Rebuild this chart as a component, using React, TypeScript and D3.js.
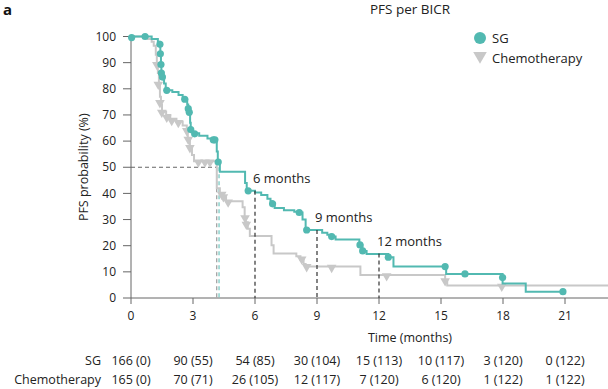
import React from "react";
import * as d3 from "d3";

// Kaplan-Meier steps: [time in months, PFS %] — value holds from this time on
const sgSteps: [number, number][] = [
  [0, 100], [1.0, 99], [1.3, 98], [1.38, 97], [1.42, 93.4], [1.45, 89.3], [1.47, 86],
  [1.5, 84.5], [1.6, 82], [1.68, 80], [1.73, 79.4], [2.0, 78.8], [2.3, 77.6], [2.5, 76.5],
  [2.6, 76], [2.72, 74], [2.77, 72.4], [2.82, 71], [2.86, 67], [2.89, 64.4], [3.0, 63],
  [3.3, 62], [3.7, 61], [3.95, 60.5], [4.15, 56], [4.2, 52], [4.3, 48.3], [5.52, 44],
  [5.6, 41], [6.0, 40.3], [6.3, 39.4], [6.6, 38], [6.75, 37], [6.85, 36], [6.95, 34.4],
  [7.4, 33.6], [7.9, 33], [8.14, 32.7], [8.3, 30], [8.45, 26], [9.25, 25], [9.5, 24.2],
  [9.71, 23.5], [9.9, 22.4], [11.05, 20.3], [11.2, 18], [11.4, 16.8], [12.45, 15.6],
  [12.7, 12], [15.25, 9.2], [17.98, 5.5], [19.1, 2.4], [20.9, 2.4],
];
const sgCensored: [number, number][] = [
  [0.03, 99.6], [0.68, 100], [1.4, 97], [1.42, 93.4], [1.45, 89.3], [1.47, 86], [1.52, 84.5],
  [1.73, 79.4], [2.6, 76], [2.77, 72.4], [2.82, 71], [2.89, 64.4], [3.08, 62.8], [3.98, 60.5],
  [4.06, 60.5], [4.22, 52], [5.67, 41], [6.85, 36], [8.14, 32.7], [8.5, 26], [9.71, 23.5],
  [11.08, 20.3], [11.21, 18], [12.45, 15.6], [15.2, 12], [16.16, 9.2], [17.98, 7.8], [20.9, 2.4],
];

const chemoSteps: [number, number][] = [
  [0, 100], [0.8, 99], [1.0, 98], [1.1, 96.5], [1.2, 93], [1.25, 89.6], [1.3, 86],
  [1.35, 82], [1.4, 77], [1.45, 74], [1.5, 71.3], [1.7, 70], [1.9, 68.5], [2.2, 67.5],
  [2.5, 66], [2.7, 64.3], [2.75, 61], [2.85, 57.8], [2.95, 54.7], [3.05, 52.3], [4.1, 51.5],
  [4.15, 42], [4.3, 40], [4.45, 38.5], [4.6, 37], [5.4, 34.7], [5.5, 31], [5.55, 29],
  [5.65, 26.5], [5.75, 23.7], [6.8, 20.2], [6.9, 17], [8.0, 16], [8.2, 14.5], [8.35, 13],
  [8.45, 12], [11.1, 8.8], [15.2, 6.9], [15.3, 4.8], [23.2, 4.8],
];
const chemoCensored: [number, number][] = [
  [1.25, 89.6], [1.32, 82], [1.4, 75], [1.49, 71.3], [1.73, 69.4], [1.97, 68.2], [2.29, 67.4],
  [2.7, 64.3], [2.77, 61], [2.85, 57.8], [3.26, 52.3], [3.58, 52.3], [3.82, 52.3], [4.39, 40],
  [4.47, 39], [4.7, 37], [5.52, 31], [5.58, 28.5], [8.26, 15.2], [8.5, 12.3], [9.71, 12],
  [12.37, 8.8], [15.2, 6.9], [17.94, 4.8],
];

const medians = { sg: 4.26, chemo: 4.15 };
const milestones: [number, number, string][] = [
  [6, 41, "6 months"],
  [9, 26, "9 months"],
  [12, 17, "12 months"],
];

const xTicks = [0, 3, 6, 9, 12, 15, 18, 21];
const yTicks = [0, 10, 20, 30, 40, 50, 60, 70, 80, 90, 100];
const riskSG = ["166 (0)", "90 (55)", "54 (85)", "30 (104)", "15 (113)", "10 (117)", "3 (120)", "0 (122)"];
const riskChemo = ["165 (0)", "70 (71)", "26 (105)", "12 (117)", "7 (120)", "6 (120)", "1 (122)", "1 (122)"];

const TEAL = "#52b9b1";
const GREY = "#c8c8c8";
const FONT = "'Open Sans', 'Liberation Sans', sans-serif";

export default function App() {
  const width = 608;
  const height = 389;
  const x = d3.scaleLinear().domain([0, 21]).range([131, 565]);
  const y = d3.scaleLinear().domain([0, 100]).range([298, 36.5]);

  const line = d3
    .line<[number, number]>()
    .x((d) => x(d[0]))
    .y((d) => y(d[1]))
    .curve(d3.curveStepAfter);

  const tri = d3.symbol().type(d3.symbolTriangle).size(40)();

  return (
    <svg
      width={width}
      height={height}
      style={{ position: "absolute", left: 0, top: 0, fontFamily: FONT }}
    >
      <rect width={width} height={height} fill="#fff" />
      <text x={3} y={15} fontSize={15} fontWeight="bold" fill="#111">a</text>
      <text x={410} y={14} fontSize={13.5} textAnchor="middle" fill="#222">PFS per BICR</text>

      {/* axes */}
      <line x1={x(0)} x2={x(0)} y1={y(0)} y2={y(100) - 1} stroke="#666" />
      <line x1={x(0)} x2={width} y1={y(0)} y2={y(0)} stroke="#666" />
      {yTicks.map((t) => (
        <g key={t}>
          <line x1={x(0) - 8} x2={x(0)} y1={y(t)} y2={y(t)} stroke="#666" />
          <text x={x(0) - 15} y={y(t)} dy="0.35em" fontSize={12} textAnchor="end" fill="#222">
            {t}
          </text>
        </g>
      ))}
      {xTicks.map((t) => (
        <g key={t}>
          <line x1={x(t)} x2={x(t)} y1={y(0)} y2={y(0) + 6} stroke="#666" />
          <text x={x(t)} y={320} fontSize={12} textAnchor="middle" fill="#222">{t}</text>
        </g>
      ))}
      <text x={410} y={342} fontSize={12.5} textAnchor="middle" fill="#222">Time (months)</text>
      <text
        transform={`translate(88,${y(50)}) rotate(-90)`}
        fontSize={12.5}
        textAnchor="middle"
        fill="#222"
      >
        PFS probability (%)
      </text>

      {/* median lines */}
      <line x1={x(0)} x2={x(medians.chemo)} y1={y(50)} y2={y(50)} stroke="#666" strokeDasharray="4,3" />
      <line x1={x(medians.chemo)} x2={x(medians.chemo)} y1={y(50)} y2={y(0)} stroke="#888" strokeDasharray="4,3" />
      <line x1={x(medians.sg)} x2={x(medians.sg)} y1={y(50)} y2={y(0)} stroke={TEAL} strokeDasharray="4,3" />

      {/* curves */}
      <path d={line(chemoSteps) ?? ""} fill="none" stroke={GREY} strokeWidth={2} />
      {chemoCensored.map((d, i) => (
        <path key={i} d={tri ?? ""} transform={`translate(${x(d[0])},${y(d[1]) + 1}) rotate(180)`} fill={GREY} />
      ))}
      <path d={line(sgSteps) ?? ""} fill="none" stroke={TEAL} strokeWidth={2} />
      {sgCensored.map((d, i) => (
        <circle key={i} cx={x(d[0])} cy={y(d[1])} r={3.6} fill={TEAL} />
      ))}

      {/* milestones */}
      {milestones.map(([t, v, label]) => (
        <g key={label}>
          <line x1={x(t)} x2={x(t)} y1={y(v)} y2={y(0)} stroke="#333" strokeWidth={1.2} strokeDasharray="4,3" />
          <text x={x(t) - 2} y={y(v) - 8} fontSize={13} fill="#222">{label}</text>
        </g>
      ))}

      {/* legend */}
      <circle cx={480} cy={38} r={6} fill={TEAL} />
      <text x={492} y={38} dy="0.35em" fontSize={13} fill="#222">SG</text>
      <path d={d3.symbol().type(d3.symbolTriangle).size(80)() ?? ""} transform="translate(480,56) rotate(180)" fill={GREY} />
      <text x={492} y={58} dy="0.35em" fontSize={13} fill="#222">Chemotherapy</text>

      {/* number at risk */}
      <text x={101} y={361} dy="0.35em" fontSize={12.5} textAnchor="end" fill="#222">SG</text>
      <text x={101} y={380} dy="0.35em" fontSize={12.5} textAnchor="end" fill="#222">Chemotherapy</text>
      {xTicks.map((t, i) => (
        <g key={t}>
          <text x={x(t)} y={361} dy="0.35em" fontSize={12.5} textAnchor="middle" fill="#222">{riskSG[i]}</text>
          <text x={x(t)} y={380} dy="0.35em" fontSize={12.5} textAnchor="middle" fill="#222">{riskChemo[i]}</text>
        </g>
      ))}
    </svg>
  );
}
